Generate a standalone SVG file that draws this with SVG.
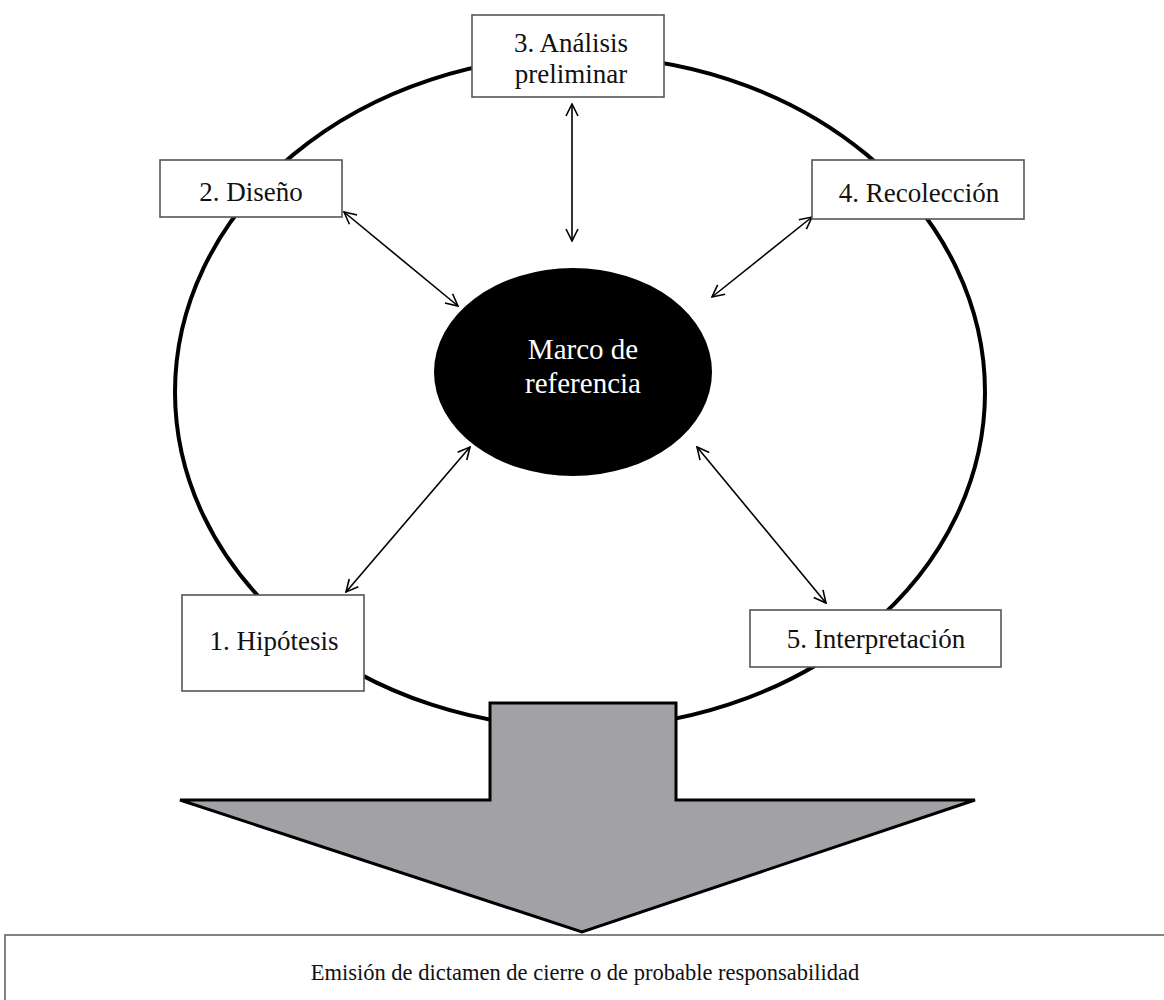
<svg xmlns="http://www.w3.org/2000/svg" width="1164" height="1000" viewBox="0 0 1164 1000">
<defs>
<marker id="ah" viewBox="0 0 14 14" refX="13" refY="7" markerWidth="14" markerHeight="14" markerUnits="userSpaceOnUse" orient="auto-start-reverse">
<path d="M1,1 L13,7 L1,13" fill="none" stroke="#000" stroke-width="1.6"/>
</marker>
</defs>
<style>
.box{fill:#fff;stroke:#555;stroke-width:1.6}
.t{font-family:"Liberation Serif",serif;font-size:27px;fill:#111;text-anchor:middle}
.b{font-family:"Liberation Serif",serif;font-size:22.5px;fill:#111;text-anchor:middle}
.w{font-family:"Liberation Serif",serif;font-size:29px;fill:#fff;text-anchor:middle}
.c{stroke:#000;stroke-width:1.6;fill:none;marker-start:url(#ah);marker-end:url(#ah)}
</style>
<rect width="1164" height="1000" fill="#fff"/>
<ellipse id="ring" cx="580" cy="392" rx="405" ry="336" fill="none" stroke="#000" stroke-width="4"/>
<g id="center"><ellipse cx="573" cy="372" rx="139" ry="104" fill="#000"/>
<text class="w" x="583" y="359">Marco de</text><text class="w" x="583" y="393">referencia</text></g>
<g id="connectors">
<line class="c" x1="572" y1="104" x2="572" y2="241"/>
<line class="c" x1="344" y1="212" x2="458" y2="306"/>
<line class="c" x1="812" y1="217" x2="712" y2="297"/>
<line class="c" x1="346" y1="592" x2="470" y2="447"/>
<line class="c" x1="826" y1="603" x2="697" y2="447"/>
</g>
<g id="n3"><rect class="box" x="472" y="15" width="192" height="82"/><text class="t" x="571" y="52">3. Análisis</text><text class="t" x="571" y="83">preliminar</text></g>
<g id="n2"><rect class="box" x="160" y="160" width="182" height="57"/><text class="t" x="251" y="201">2. Diseño</text></g>
<g id="n4"><rect class="box" x="812" y="160" width="212" height="59"/><text class="t" x="919" y="202">4. Recolección</text></g>
<g id="n1"><rect class="box" x="182" y="595" width="182" height="96"/><text class="t" x="274" y="650">1. Hipótesis</text></g>
<g id="n5"><rect class="box" x="750" y="610" width="251" height="57"/><text class="t" x="876" y="648">5. Interpretación</text></g>
<g id="bigarrow"><polygon points="490,703 676,703 676,800 975,800 582,932 180,800 490,800" fill="#a2a2a6" stroke="#000" stroke-width="3" stroke-linejoin="miter"/></g>
<g id="result"><rect x="5" y="935" width="1170" height="80" fill="#fff" stroke="#666" stroke-width="1.6"/><text class="b" x="585" y="980">Emisión de dictamen de cierre o de probable responsabilidad</text></g>
</svg>
